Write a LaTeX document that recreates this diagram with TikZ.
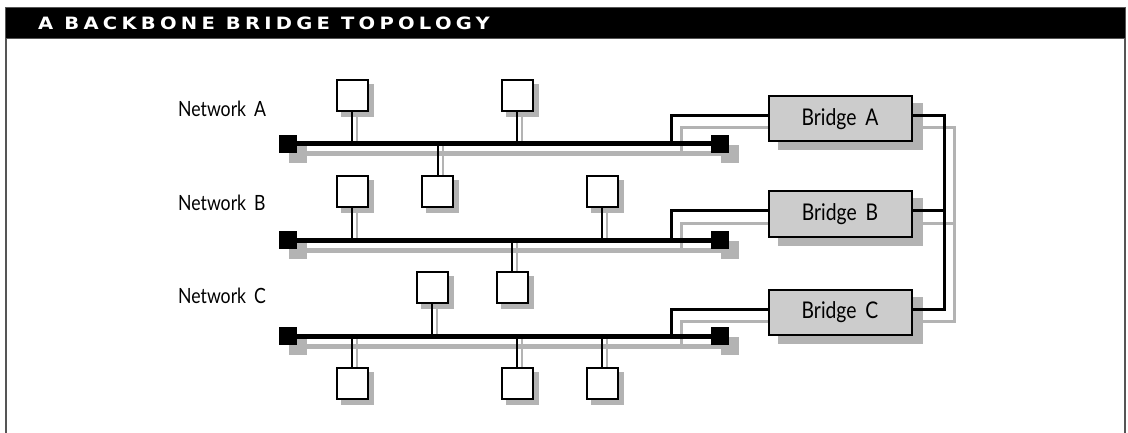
\documentclass[tikz,border=0pt]{standalone}
\usepackage{fontspec}
\setmainfont{Lato}[FakeStretch=0.84, WordSpace=1.8]
\newfontfamily\headfont{DejaVu Sans}[FakeStretch=1.15, LetterSpace=25]
\usetikzlibrary{positioning,calc}
\definecolor{shadegray}{RGB}{179,179,179}
\definecolor{bridgegray}{RGB}{204,204,204}
\definecolor{framegray}{RGB}{85,85,85}
\pgfdeclarelayer{shade}
\pgfdeclarelayer{wires}
\pgfsetlayers{shade,wires,main}
\tikzset{
  station/.style={draw, line width=2pt, fill=white, minimum size=31pt, inner sep=0pt},
  bridgebox/.style={draw, line width=2pt, fill=bridgegray, minimum width=143pt, minimum height=45pt, inner sep=0pt, font=\fontsize{23}{26}\selectfont},
  terminator/.style={fill=black, minimum size=18pt, inner sep=0pt, outer sep=0pt},
  netlabel/.style={anchor=base west, inner sep=0pt, font=\fontsize{21}{24}\selectfont},
  bus/.style={line width=5pt},
  busshade/.style={shadegray, line width=5pt},
  stem/.style={line width=2pt},
  stemshade/.style={shadegray, line width=2pt},
  link/.style={line width=3pt},
  linkshade/.style={shadegray, line width=3pt}
}

\begin{document}
\begin{tikzpicture}[x=1pt, y=-1pt]
  \useasboundingbox (0,0) rectangle (1128,433);
  % frame and title bar
  \filldraw[fill=black, draw=framegray, line width=1pt] (5.5,7.5) rectangle (1125.5,39);
  \draw[framegray, line width=2pt] (6,39) -- (6,433) (1125,39) -- (1125,433);
  \node[anchor=base west, text=white, inner sep=0pt, font=\headfont\bfseries\fontsize{17}{20}\selectfont] (title) at (38,30) {A BACKBONE BRIDGE TOPOLOGY};

  % network labels
  \node[netlabel] (labA) at (178,117) {Network A};
  \node[netlabel] (labB) at (178,211) {Network B};
  \node[netlabel] (labC) at (178,303) {Network C};

  % terminators at both ends of each bus
  \foreach \n/\y in {A/144, B/240, C/336}{
    \node[terminator] (tl\n) at (288,\y) {};
    \node[terminator] (tr\n) at (720,\y) {};
  }

  % stations
  \node[station] (sA1) at (352,95.5) {};
  \node[station] (sA2) at (517,95.5) {};
  \node[station] (sA3) at (437.5,191.5) {};
  \node[station] (sB1) at (352,191.5) {};
  \node[station] (sB2) at (602,191.5) {};
  \node[station] (sB3) at (512,287.5) {};
  \node[station] (sC1) at (432,287.5) {};
  \node[station] (sC2) at (352,383) {};
  \node[station] (sC3) at (517,383) {};
  \node[station] (sC4) at (602,383) {};

  % bridges
  \node[bridgebox] (brA) at (840,119) {Bridge A};
  \node[bridgebox] (brB) at (840,214) {Bridge B};
  \node[bridgebox] (brC) at (840,312) {Bridge C};

  \foreach \n in {A,B,C}{
    \coordinate (lk\n) at ([yshift=3pt]br\n.west);
    \coordinate (rk\n) at ([yshift=3pt]br\n.east);
    \coordinate (tap\n) at ($(tr\n)+(-49,0)$);
  }
  \coordinate (spine) at (944,0);

  % shadows
  \begin{pgfonlayer}{shade}
    \foreach \n in {A,B,C}{
      \draw[busshade] ($(tl\n)+(10,10)$) -- ($(tr\n)+(10,10)$);
      \fill[shadegray] ($(tl\n.south west)+(10,10)$) rectangle ($(tl\n.north east)+(10,10)$);
      \fill[shadegray] ($(tr\n.south west)+(10,10)$) rectangle ($(tr\n.north east)+(10,10)$);
      \fill[shadegray] ($(br\n.south west)+(10,8)$) rectangle ($(br\n.north east)+(10,8)$);
      \draw[linkshade] ($(lk\n)+(10,12)$) -| ($(tap\n)+(10,12)$);
    }
    \foreach \s/\n in {sA1/A, sA2/A, sA3/A, sB1/B, sB2/B, sB3/B, sC1/C, sC2/C, sC3/C, sC4/C}{
      \fill[shadegray] ($(\s.south west)+(5,5)$) rectangle ($(\s.north east)+(5,5)$);
      \draw[stemshade] ($(\s.center)+(5,0)$) -- ($(\s |- tl\n)+(5,0)$);
    }
    \draw[linkshade] ($(rkA)+(10,12)$) -| ($(spine |- rkC)+(10,12)$) -- ($(rkC)+(10,12)$);
    \draw[linkshade] ($(rkB)+(10,12)$) -- ($(spine |- rkB)+(10,12)$);
  \end{pgfonlayer}

  % buses, drops and bridge links
  \begin{pgfonlayer}{wires}
    \foreach \n in {A,B,C}{
      \draw[bus] (tl\n) -- (tr\n);
      \draw[link] (lk\n) -| (tap\n);
    }
    \foreach \s/\n in {sA1/A, sA2/A, sA3/A, sB1/B, sB2/B, sB3/B, sC1/C, sC2/C, sC3/C, sC4/C}{
      \draw[stem] (\s) -- (\s |- tl\n);
    }
    \draw[link] (rkA) -| (spine |- rkC) -- (rkC);
    \draw[link] (rkB) -- (spine |- rkB);
  \end{pgfonlayer}
\end{tikzpicture}
\end{document}
